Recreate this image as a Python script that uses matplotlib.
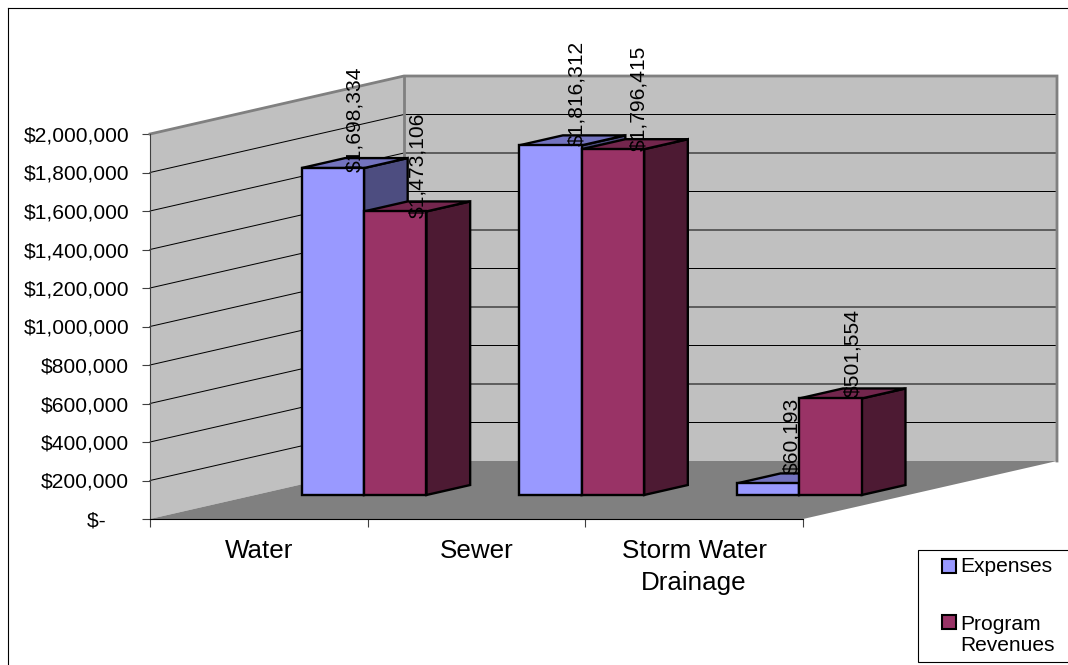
import matplotlib
matplotlib.use("Agg")
import matplotlib.pyplot as plt
from matplotlib.lines import Line2D
from matplotlib.patches import Polygon, Rectangle

plt.rcParams["font.family"] = ["Liberation Sans", "DejaVu Sans"]

# Values
categories = ["Water", "Sewer", "Storm Water\nDrainage"]
expenses = [1698334, 1816312, 60193]
revenues = [1473106, 1796415, 501554]
value_ticks = [0, 200000, 400000, 600000, 800000, 1000000, 1200000, 1400000,
               1600000, 1800000, 2000000]
value_labels = ["$-    ", "$200,000", "$400,000", "$600,000", "$800,000", "$1,000,000",
                "$1,200,000", "$1,400,000", "$1,600,000", "$1,800,000", "$2,000,000"]
data_labels_exp = ["$1,698,334", "$1,816,312", "$60,193"]
data_labels_rev = ["$1,473,106", "$1,796,415", "$501,554"]
series_names = ["Expenses", "Program\nRevenues"]

W, H = 1068, 665

# Fake 3D setup: how far the back of the box is shifted from the front plane
VMAX = 2000000
DX = 254 / (653 / 3)
DY = 58 / 385 * VMAX
BAR_W = 0.287
D0, D1 = 0.414, 0.586

# small label shifts in pixels, the original placed them a bit unevenly
nudge_exp = [(0, -1), (4.5, 3), (2, 13)]
nudge_rev = [(1, -3), (4.5, 2), (0, 5)]


def proj(x, v, d):
    return x + d * DX, v + d * DY


def face(ax, pts, color, z, **kw):
    p = Polygon(pts, closed=True, facecolor=color, zorder=z, clip_on=False, **kw)
    ax.add_patch(p)


def draw_bar(ax, x0, v, front, top, side, z):
    x1 = x0 + BAR_W
    edge = dict(edgecolor="black", linewidth=1.7)
    face(ax, [proj(x1, 0, D0), proj(x1, 0, D1), proj(x1, v, D1), proj(x1, v, D0)], side, z, **edge)
    face(ax, [proj(x0, v, D0), proj(x1, v, D0), proj(x1, v, D1), proj(x0, v, D1)], top, z, **edge)
    face(ax, [proj(x0, 0, D0), proj(x1, 0, D0), proj(x1, v, D0), proj(x0, v, D0)], front, z, **edge)


def fx(px):
    return px / W


def fy(px):
    return (H - px) / H


fig = plt.figure(figsize=(W / 100, H / 100), dpi=100)
ax = fig.add_axes([150 / W, (H - 519) / H, 653 / W, 385 / H])
ax.patch.set_visible(False)
ax.set_xlim(0, 3)
ax.set_ylim(0, VMAX)

# walls and floor
wall = "#C0C0C0"
face(ax, [proj(0, 0, 0), proj(0, 0, 1), proj(0, VMAX, 1), proj(0, VMAX, 0)], wall, 1, linewidth=0)
face(ax, [proj(0, 0, 1), proj(3, 0, 1), proj(3, VMAX, 1), proj(0, VMAX, 1)], wall, 1, linewidth=0)
face(ax, [proj(0, 0, 0), proj(3, 0, 0), proj(3, 0, 1), proj(0, 0, 1)], "#808080", 1.2, linewidth=0)

# gridlines run along the side wall, then across the back wall
for v in value_ticks[1:-1]:
    xs, ys = zip(proj(0, v, 0), proj(0, v, 1), proj(3, v, 1))
    ax.plot(xs, ys, color="black", lw=0.72, zorder=1.5, clip_on=False)

# grey outline of the walls
xs, ys = zip(proj(0, VMAX, 0), proj(0, VMAX, 1), proj(3, VMAX, 1), proj(3, 0, 1))
ax.plot(xs, ys, color="#808080", lw=2, zorder=1.6, clip_on=False, solid_joinstyle="miter")
xs, ys = zip(proj(0, VMAX, 1), proj(0, 0, 1))
ax.plot(xs, ys, color="#808080", lw=2, zorder=1.6, clip_on=False)

# bars, one group after another so the revenue bar sits in front
for i in range(len(categories)):
    left = i + 0.5 - BAR_W
    draw_bar(ax, left, expenses[i], "#9999FF", "#7373BF", "#4D4D80", 3 + i)
    draw_bar(ax, left + BAR_W, revenues[i], "#993366", "#73264D", "#4D1A33", 3.5 + i)

# value labels
label_d = (D0 + D1) / 2
for i in range(len(categories)):
    for offs, vals, labs, nudge in [(-BAR_W / 2, expenses, data_labels_exp, nudge_exp),
                                    (BAR_W / 2, revenues, data_labels_rev, nudge_rev)]:
        ax.annotate(labs[i], xy=proj(i + 0.5 + offs, vals[i], label_d),
                    xytext=(nudge[i][0] * 0.72, -6 + nudge[i][1] * 0.72),
                    textcoords="offset points", rotation=90,
                    ha="center", va="bottom", fontsize=15.1, color="black",
                    zorder=10, annotation_clip=False)

# axes
ax.set_yticks(value_ticks)
ax.set_yticklabels(value_labels, fontsize=15.1)
ax.set_xticks([0, 1, 2, 3])
ax.set_xticklabels([])
ax.set_xticks([0.5, 1.5, 2.5], minor=True)
ax.set_xticklabels(categories, minor=True, fontsize=18.7, linespacing=1.42)
ax.tick_params(axis="x", which="minor", length=0, pad=14.5)
ax.tick_params(axis="x", which="major", length=6, width=0.8, color="#404040")
ax.tick_params(axis="y", length=6, width=0.8, color="#404040", pad=9)
for s in ["top", "right"]:
    ax.spines[s].set_visible(False)
ax.spines["left"].set_color("#404040")
ax.spines["left"].set_linewidth(0.8)
ax.spines["bottom"].set_color("black")
ax.spines["bottom"].set_linewidth(0.8)
ax.spines["left"].set_zorder(2)
ax.spines["bottom"].set_zorder(2)

# legend box, it runs off the right side of the picture
fig.add_artist(Rectangle((fx(918), fy(662)), fx(170), 112 / H, transform=fig.transFigure,
                         facecolor="white", edgecolor="black", linewidth=0.8))
for swatch_top, color in [(558, "#9999FF"), (614, "#993366")]:
    fig.add_artist(Rectangle((fx(941.5), fy(swatch_top + 15)), 14 / W, 14 / H,
                             transform=fig.transFigure, facecolor=color,
                             edgecolor="black", linewidth=1.5))
fig.text(fx(960), fy(566), series_names[0], fontsize=15.1, va="center", ha="left")
fig.text(fx(960), fy(635), series_names[1], fontsize=15.1, va="center", ha="left", linespacing=1.1)

# chart frame: only left and top edges land inside the image
fig.add_artist(Line2D([fx(7.5), fx(7.5)], [0, fy(7.5)], color="black", lw=0.8))
fig.add_artist(Line2D([fx(7.5), 1], [fy(7.5), fy(7.5)], color="black", lw=0.8))

fig.savefig("out.png", dpi=100)
